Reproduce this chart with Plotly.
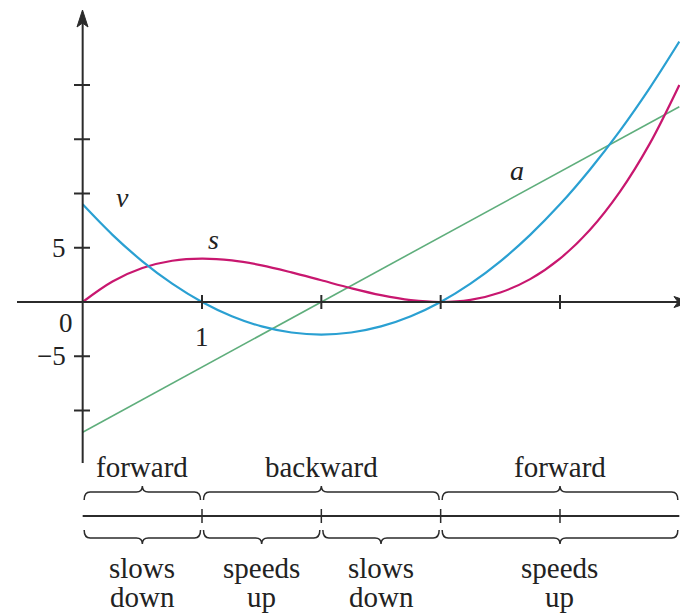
import plotly.graph_objects as go

# ---- data ----
t_vals = [0, 0.25, 0.5, 0.75, 1, 1.25, 1.5, 1.75, 2, 2.25, 2.5, 2.75, 3,
          3.25, 3.5, 3.75, 4, 4.25, 4.5, 4.75, 5]
s_vals = [0, 1.89, 3.13, 3.8, 4, 3.83, 3.38, 2.73, 2, 1.27, 0.63, 0.17, 0,
          0.2, 0.88, 2.11, 4, 6.64, 10.13, 14.55, 20]
v_vals = [9, 6.19, 3.75, 1.69, 0, -1.31, -2.25, -2.81, -3, -2.81, -2.25, -1.31, 0,
          1.69, 3.75, 6.19, 9, 12.19, 15.75, 19.69, 24]
a_t = [0, 1, 2, 3, 4, 5]
a_vals = [-12, -6, 0, 6, 12, 18]

y_ticks = [-10, -5, 5, 10, 15, 20]
y_tick_labels = {5: "5", -5: "\u22125"}
x_ticks = [1, 2, 3, 4]
x_tick_labels = {1: "1"}

dir_intervals = [(0, 1), (1, 3), (3, 5)]
dir_labels = ["forward", "backward", "forward"]
speed_intervals = [(0, 1), (1, 2), (2, 3), (3, 5)]
speed_labels = [("slows", "down"), ("speeds", "up"), ("slows", "down"), ("speeds", "up")]

# ---- pixel <-> data helpers (for decorations) ----
W, H = 680, 615
X0PX, XSCALE = 82.67, 119.33
Y0PX, YSCALE = 302.0, 10.85

def dx(p):
    return (p - X0PX) / XSCALE

def dy(p):
    return (Y0PX - p) / YSCALE

AX = "#2b2b2b"
TXT = "#222222"
BLUE = "#2aa0d2"
MAG = "#c8176f"
GREEN = "#5fae7c"
FONT = "Liberation Serif"
WORD_SIZE = 29
NUM_SIZE = 27

fig = go.Figure()
fig.add_trace(go.Scatter(x=a_t, y=a_vals, mode="lines",
                         line=dict(color=GREEN, width=1.6), hoverinfo="skip"))
fig.add_trace(go.Scatter(x=t_vals, y=s_vals, mode="lines", line_shape="spline",
                         line=dict(color=MAG, width=2.2), hoverinfo="skip"))
fig.add_trace(go.Scatter(x=t_vals, y=v_vals, mode="lines", line_shape="spline",
                         line=dict(color=BLUE, width=2.2), hoverinfo="skip"))

shapes = []
# axes
shapes.append(dict(type="line", x0=dx(17), x1=dx(680), y0=0, y1=0,
                   line=dict(color=AX, width=2)))
shapes.append(dict(type="line", x0=0, x1=0, y0=dy(463), y1=dy(22),
                   line=dict(color=AX, width=2)))
# arrowheads
shapes.append(dict(type="path", fillcolor=AX, line=dict(color=AX, width=1),
                   path=f"M {dx(82.5)} {dy(10)} L {dx(77)} {dy(27)} L {dx(82.5)} {dy(23)} L {dx(88)} {dy(27)} Z"))
shapes.append(dict(type="path", fillcolor=AX, line=dict(color=AX, width=1),
                   path=f"M {dx(690)} {0} L {dx(674)} {dy(296.5)} L {dx(678)} {0} L {dx(674)} {dy(307.5)} Z"))
# y ticks
for yt in y_ticks:
    shapes.append(dict(type="line", x0=dx(74), x1=dx(90), y0=yt, y1=yt,
                       line=dict(color=AX, width=2)))
# x ticks
for xt in x_ticks:
    shapes.append(dict(type="line", x0=xt, x1=xt, y0=dy(295), y1=dy(309),
                       line=dict(color=AX, width=2)))

# lower number line
LINE_PX = 516
shapes.append(dict(type="line", x0=0, x1=5, y0=dy(LINE_PX), y1=dy(LINE_PX),
                   line=dict(color=AX, width=2)))
for xt in x_ticks:
    shapes.append(dict(type="line", x0=xt, x1=xt, y0=dy(LINE_PX - 7), y1=dy(LINE_PX + 7),
                       line=dict(color=AX, width=1.5)))


def brace(a, b, ypx, up=True, gap=1.5):
    x1 = X0PX + a * XSCALE + gap
    x2 = X0PX + b * XSCALE - gap
    xm = (x1 + x2) / 2
    s = 1 if up else -1  # up: tips curl down, peak up
    r = 6
    ye = ypx + s * 8
    yp = ypx - s * 6
    pts = [
        f"M {dx(x1)} {dy(ye)}",
        f"Q {dx(x1)} {dy(ypx)} {dx(x1 + r)} {dy(ypx)}",
        f"L {dx(xm - r)} {dy(ypx)}",
        f"Q {dx(xm)} {dy(ypx)} {dx(xm)} {dy(yp)}",
        f"Q {dx(xm)} {dy(ypx)} {dx(xm + r)} {dy(ypx)}",
        f"L {dx(x2 - r)} {dy(ypx)}",
        f"Q {dx(x2)} {dy(ypx)} {dx(x2)} {dy(ye)}",
    ]
    return dict(type="path", path=" ".join(pts), line=dict(color=AX, width=1.5))

for (a, b) in dir_intervals:
    shapes.append(brace(a, b, 492, up=True))
for (a, b) in speed_intervals:
    shapes.append(brace(a, b, 538, up=False))

annotations = []
for yt, lab in y_tick_labels.items():
    annotations.append(dict(x=dx(68), y=yt, text=lab, showarrow=False, xanchor="right",
                            yanchor="middle", font=dict(family=FONT, size=NUM_SIZE, color=TXT)))
annotations.append(dict(x=dx(66), y=dy(323), text="0", showarrow=False,
                        font=dict(family=FONT, size=NUM_SIZE, color=TXT)))
for xt, lab in x_tick_labels.items():
    annotations.append(dict(x=xt, y=dy(337), text=lab, showarrow=False,
                            font=dict(family=FONT, size=NUM_SIZE, color=TXT)))

for name, px_, py_ in [("v", 122, 197), ("s", 213, 239), ("a", 517, 170)]:
    annotations.append(dict(x=dx(px_), y=dy(py_), text=f"<i>{name}</i>", showarrow=False,
                            font=dict(family=FONT, size=28, color=TXT)))

for (a, b), lab in zip(dir_intervals, dir_labels):
    annotations.append(dict(x=(a + b) / 2, y=dy(467), text=lab, showarrow=False,
                            yanchor="middle",
                            font=dict(family=FONT, size=WORD_SIZE, color=TXT)))
for (a, b), (l1, l2) in zip(speed_intervals, speed_labels):
    annotations.append(dict(x=(a + b) / 2, y=dy(568), text=l1, showarrow=False,
                            yanchor="middle",
                            font=dict(family=FONT, size=WORD_SIZE, color=TXT)))
    annotations.append(dict(x=(a + b) / 2, y=dy(597), text=l2, showarrow=False,
                            yanchor="middle",
                            font=dict(family=FONT, size=WORD_SIZE, color=TXT)))

fig.update_layout(
    width=W, height=H,
    margin=dict(l=0, r=0, t=0, b=0),
    paper_bgcolor="white", plot_bgcolor="white",
    showlegend=False,
    xaxis=dict(range=[dx(0), dx(W)], visible=False, fixedrange=True),
    yaxis=dict(range=[dy(H), dy(0)], visible=False, fixedrange=True),
    shapes=shapes, annotations=annotations,
)

fig.write_html("out.html", config={"staticPlot": True},
               post_script="document.body.style.margin='0';document.body.style.overflow='hidden';")
